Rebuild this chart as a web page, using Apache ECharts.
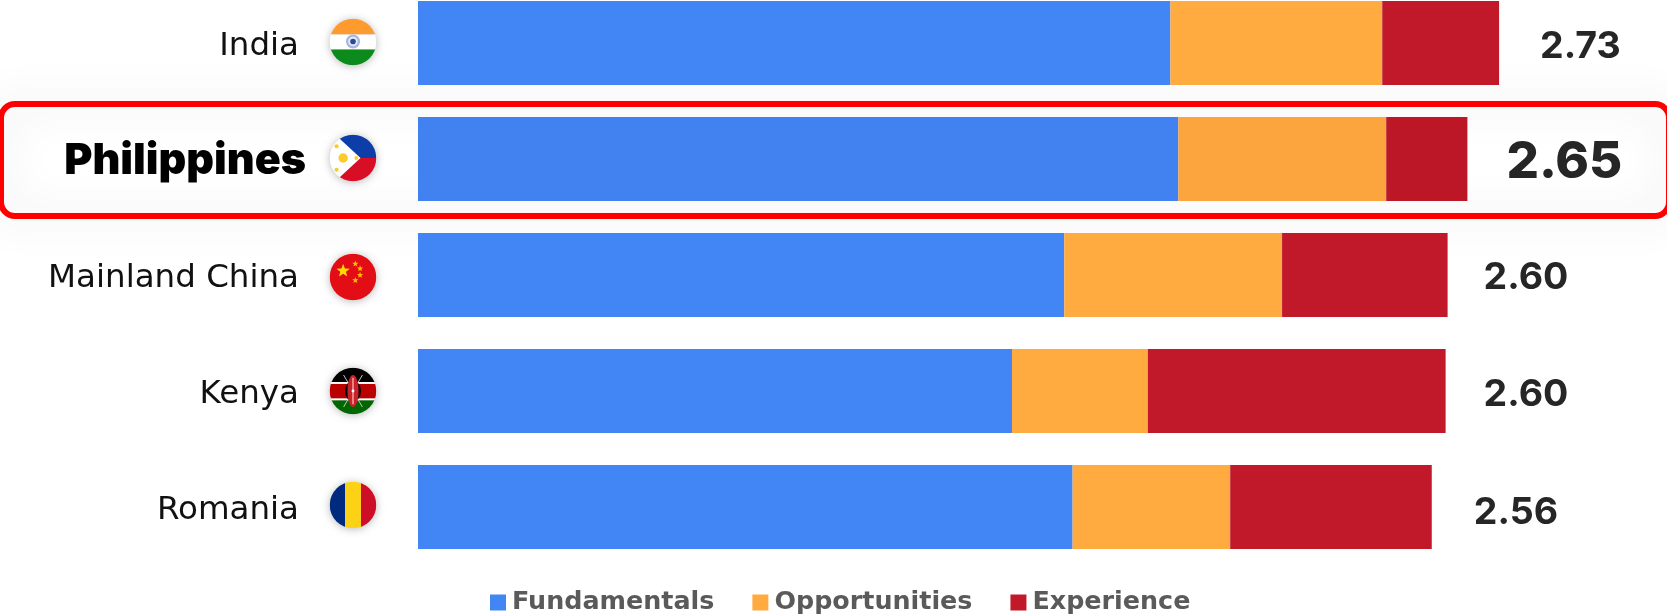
<!DOCTYPE html>
<html>
<head>
<meta charset="utf-8">
<style>html,body{margin:0;padding:0;background:#fff}#chart{width:1667px;height:616px}</style>
<script src="https://cdn.jsdelivr.net/npm/echarts@6/dist/echarts.min.js"></script>
</head>
<body>
<div id="chart"></div>
<script>
// Index scores by country, split into three components
const countries = ['India', 'Philippines', 'Mainland China', 'Kenya', 'Romania'];
const fundamentals = [1.90, 1.92, 1.632, 1.50, 1.653];
const opportunities = [0.535, 0.525, 0.55, 0.343, 0.398];
const experience = [0.295, 0.205, 0.418, 0.752, 0.509];
const totals = ['2.73', '2.65', '2.60', '2.60', '2.56'];
const highlighted = 'Philippines';

const NUM_FONT = 'Inter';
const TEXT_FONT = '"DejaVu Sans"';
const BLUE = '#4285F4', ORANGE = '#FFAB40', RED = '#C1182A';

// Small round flags, written as inline SVG
function flagImage(body) {
  const svg = '<svg xmlns="http://www.w3.org/2000/svg" width="94" height="94" viewBox="0 0 100 100">' +
    '<defs><clipPath id="c"><circle cx="50" cy="50" r="49.5"/></clipPath>' +
    '<filter id="s"><feGaussianBlur stdDeviation="1.1"/></filter></defs>' +
    '<g clip-path="url(#c)"><g filter="url(#s)">' + body + '</g></g></svg>';
  return 'data:image/svg+xml;charset=utf-8,' + encodeURIComponent(svg);
}
function star(cx, cy, r, fill) {
  let p = '';
  for (let i = 0; i < 10; i++) {
    const a = -Math.PI / 2 + i * Math.PI / 5, q = i % 2 ? r * 0.42 : r;
    p += (cx + q * Math.cos(a)).toFixed(1) + ',' + (cy + q * Math.sin(a)).toFixed(1) + ' ';
  }
  return '<polygon points="' + p + '" fill="' + fill + '"/>';
}
const flags = {
  'India': flagImage(
    '<rect x="-5" y="-5" width="110" height="39" fill="#FF9A2E"/><rect x="-5" y="34" width="110" height="32" fill="#fff"/>' +
    '<rect x="-5" y="66" width="110" height="39" fill="#0E8A1E"/>' +
    '<circle cx="50" cy="49" r="15" fill="#A9B8DE"/><circle cx="50" cy="49" r="10" fill="#E8ECF6"/><circle cx="50" cy="49" r="6" fill="#2C4A9A"/>'),
  'Philippines': flagImage(
    '<rect x="-5" y="-5" width="110" height="55" fill="#0A3CA8"/><rect x="-5" y="50" width="110" height="55" fill="#D81027"/>' +
    '<polygon points="-5,-5 12,0 66,50 12,100 -5,105" fill="#fff"/>' +
    '<circle cx="29" cy="50" r="10" fill="#FBCB2C"/><circle cx="15" cy="25" r="4.5" fill="#FBCB2C"/>' +
    '<circle cx="15" cy="75" r="4.5" fill="#FBCB2C"/><circle cx="57" cy="50" r="4" fill="#FBCB2C"/>'),
  'Mainland China': flagImage(
    '<rect x="-5" y="-5" width="110" height="110" fill="#E30A17"/>' + star(29, 37, 15, '#FFDD00') +
    star(55, 22, 7, '#FFC000') + star(65, 32, 7, '#FFC000') + star(65, 46, 7, '#FFC000') + star(55, 57, 7, '#FFC000')),
  'Kenya': flagImage(
    '<rect x="-5" y="-5" width="110" height="36" fill="#000"/><rect x="-5" y="31" width="110" height="4" fill="#fff"/>' +
    '<rect x="-5" y="35" width="110" height="31" fill="#BB0000"/><rect x="-5" y="66" width="110" height="4" fill="#fff"/>' +
    '<rect x="-5" y="70" width="110" height="35" fill="#006600"/>' +
    '<path d="M30 16 L70 84 M70 16 L30 84" stroke="#ccc" stroke-width="2"/>' +
    '<ellipse cx="50" cy="50" rx="17" ry="22" fill="#000"/><ellipse cx="50" cy="50" rx="12" ry="34" fill="#C8202A"/>' +
    '<path d="M50 22 V78" stroke="#E98A8A" stroke-width="4"/><circle cx="50" cy="50" r="3" fill="#fff"/>'),
  'Romania': flagImage(
    '<rect x="-5" y="-5" width="38" height="110" fill="#002B7F"/><rect x="33" y="-5" width="34" height="110" fill="#FCD116"/>' +
    '<rect x="67" y="-5" width="38" height="110" fill="#CE1126"/>')
};

// Darker fills for the highlighted row, which sits under a faint overlay
const highlightFill = { Fundamentals: '#4182F0', Opportunities: '#FCA53F', Experience: '#BC1727' };

function segment(name, values, color) {
  return {
    name: name, type: 'bar', stack: 'score', barWidth: 84, itemStyle: { color: color },
    data: values.map((v, i) => countries[i] === highlighted
      ? { value: v, itemStyle: { color: highlightFill[name] } } : v)
  };
}

const labelGap = [41, 39, 36, 38, 42];
const labelDrop = [4, 4, 3, 4, 6];
const outer = segment('Experience', experience, RED);
outer.data = outer.data.map((d, i) => {
  const hi = countries[i] === highlighted;
  const item = typeof d === 'object' ? d : { value: d };
  item.label = {
    show: true, position: 'right', distance: labelGap[i], offset: [0, labelDrop[i]], formatter: totals[i],
    fontFamily: NUM_FONT, color: '#262626', fontWeight: hi ? 800 : 700, fontSize: hi ? 51 : 37.5
  };
  return item;
});

const flagOffset = [-1, -1, 2, 0, -2];
const flagSeries = {
  type: 'custom', silent: true, clip: false, z: 5,
  encode: { x: 0, y: 1 },
  data: countries.map((c, i) => [0, i]),
  renderItem: function (params, api) {
    const p = api.coord([0, api.value(1)]);
    const i = params.dataIndex;
    return {
      type: 'image',
      style: {
        image: flags[countries[i]], x: p[0] - 65 - 23.5, y: p[1] + flagOffset[i] - 23.5, width: 47, height: 47,
        shadowBlur: 8, shadowColor: 'rgba(0,0,0,0.28)', shadowOffsetY: 1
      }
    };
  }
};

const chart = echarts.init(document.getElementById('chart'));
chart.setOption({
  animation: false,
  backgroundColor: '#fff',
  grid: { left: 418, top: -15, width: 1188, height: 580, outerBoundsMode: 'none' },
  xAxis: { type: 'value', min: 0, max: 3, show: false },
  yAxis: {
    type: 'category', inverse: true, data: countries,
    axisLine: { show: false }, axisTick: { show: false },
    axisLabel: {
      margin: 112,
      formatter: v => v === highlighted ? '{hi|' + v + '}' : '{n|' + v + '}',
      rich: {
        n: { fontFamily: TEXT_FONT, fontSize: 32.5, fontWeight: 400, color: '#111', padding: [7, 7, 0, 0] },
        hi: { fontFamily: NUM_FONT, fontSize: 43, fontWeight: 900, color: '#000', padding: [4, 0, 0, 0] }
      }
    }
  },
  legend: {
    left: 490, top: 590, padding: 0, itemWidth: 16, itemHeight: 16, itemGap: 38, icon: 'rect',
    data: ['Fundamentals', 'Opportunities', 'Experience'],
    selectedMode: false,
    textStyle: { fontFamily: TEXT_FONT, fontSize: 25.4, fontWeight: 700, color: '#5A5A5A', padding: [0, 0, 0, 1] }
  },
  // Outlined band around the highlighted row, with a soft glow on both sides of the line
  graphic: [{
    type: 'rect', z: -1, silent: true,
    shape: { x: 1, y: 104, width: 1668, height: 112, r: 14 },
    style: { fill: 'none', stroke: '#FF0000', lineWidth: 6, shadowBlur: 42, shadowColor: 'rgba(0,0,0,0.17)' }
  }],
  series: [
    segment('Fundamentals', fundamentals, BLUE),
    segment('Opportunities', opportunities, ORANGE),
    outer,
    flagSeries
  ]
});
</script>
</body>
</html>
